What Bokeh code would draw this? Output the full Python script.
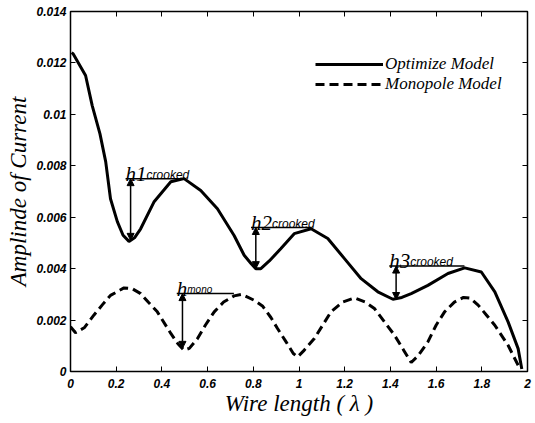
from bokeh.plotting import figure
from bokeh.models import (Range1d, FixedTicker, LinearAxis, Legend, LegendItem,
                          Arrow, NormalHead, Label, ColumnDataSource)
from bokeh.embed import file_html
from bokeh.resources import INLINE

# ---- data ----
opt_x = [0.005, 0.012, 0.066, 0.095, 0.129, 0.154, 0.175, 0.205, 0.23, 0.256, 0.28, 0.307,
         0.365, 0.439, 0.497, 0.570, 0.643, 0.716, 0.760, 0.79, 0.811, 0.833, 0.87, 0.921,
         0.979, 1.053, 1.126, 1.199, 1.272, 1.345, 1.411, 1.45, 1.491, 1.564, 1.652, 1.725,
         1.798, 1.857, 1.915, 1.959, 1.975]
opt_y = [0.0124, 0.01235, 0.01151, 0.01034, 0.00924, 0.00816, 0.00672, 0.00583, 0.0053,
         0.00506, 0.0052, 0.00555, 0.00659, 0.00738, 0.0075, 0.00704, 0.00633, 0.00529,
         0.00452, 0.0042, 0.0040, 0.0040, 0.0043, 0.00478, 0.00536, 0.00555, 0.00517,
         0.00439, 0.00361, 0.0031, 0.00281, 0.00288, 0.00303, 0.00335, 0.00381, 0.00403,
         0.00387, 0.0031, 0.00193, 0.00089, 0.0001]

mono_x = [0.0, 0.022, 0.06, 0.102, 0.14, 0.175, 0.234, 0.27, 0.307, 0.34, 0.38, 0.439,
          0.47, 0.497, 0.52, 0.556, 0.59, 0.629, 0.67, 0.716, 0.75, 0.804, 0.84, 0.877,
          0.906, 0.94, 0.975, 0.994, 1.02, 1.067, 1.14, 1.19, 1.243, 1.29, 1.33, 1.37,
          1.418, 1.46, 1.491, 1.52, 1.564, 1.60, 1.637, 1.68, 1.72, 1.75, 1.784, 1.82,
          1.857, 1.915, 1.966]
mono_y = [0.00174, 0.00151, 0.0017, 0.00219, 0.0026, 0.00296, 0.00325, 0.00322, 0.00303,
          0.0027, 0.00232, 0.00148, 0.00108, 0.00083, 0.0009, 0.00128, 0.0018, 0.00232,
          0.0027, 0.00294, 0.0030, 0.00277, 0.00255, 0.0021, 0.00167, 0.0012, 0.0007,
          0.00057, 0.0008, 0.00128, 0.00232, 0.0027, 0.00286, 0.0027, 0.00245, 0.00198,
          0.00141, 0.0008, 0.00035, 0.0006, 0.00115, 0.0018, 0.00232, 0.0027, 0.00288,
          0.00285, 0.00258, 0.0022, 0.0018, 0.00102, 0.00012]

series_names = ["Optimize Model", "Monopole Model"]

# annotation arrows (h1, h2, h3, h_mono)
ann_x = [0.263, 0.811, 1.425, 0.49]
ann_top = [0.0075, 0.0056, 0.0041, 0.00303]
ann_bottom = [0.0051, 0.0040, 0.0028, 0.0009]
ann_x0 = [0.241, 0.79, 1.395, 0.465]
ann_x1 = [0.504, 1.053, 1.724, 0.715]
ann_main = ["h1", "h2", "h3", "h"]
ann_sub = ["crooked", "crooked", "crooked", "mono"]

x_ticks = [0, 0.2, 0.4, 0.6, 0.8, 1.0, 1.2, 1.4, 1.6, 1.8, 2.0]
x_tick_labels = ["0", "0.2", "0.4", "0.6", "0.8", "1", "1.2", "1.4", "1.6", "1.8", "2"]
y_ticks = [0, 0.002, 0.004, 0.006, 0.008, 0.01, 0.012, 0.014]
y_tick_labels = ["0", "0.002", "0.004", "0.006", "0.008", "0.01", "0.012", "0.014"]

x_label = "Wire length ( \u03bb )"
y_label = "Amplinde of Current"

# ---- figure ----
p = figure(width=532, height=418, x_range=Range1d(0, 2), y_range=Range1d(0, 0.014),
           output_backend="svg", toolbar_location=None,
           min_border_left=70, min_border_right=5, min_border_top=11, min_border_bottom=45)
p.xgrid.visible = False
p.ygrid.visible = False
p.outline_line_color = "black"
p.outline_line_width = 1.5
p.background_fill_color = "white"
p.border_fill_color = "white"

tick_font = "Liberation Sans"
for ax, ticks, labels in [(p.xaxis[0], x_ticks, x_tick_labels), (p.yaxis[0], y_ticks, y_tick_labels)]:
    ax.ticker = FixedTicker(ticks=ticks)
    ax.major_label_overrides = {t: l for t, l in zip(ticks, labels)}
    ax.major_label_text_font = tick_font
    ax.major_label_text_font_style = "bold italic"
    ax.major_label_text_font_size = "12px"
    ax.major_label_text_color = "black"
    ax.major_tick_in = 5
    ax.major_tick_out = 0
    ax.minor_tick_line_color = None
    ax.axis_line_color = "black"
    ax.major_tick_line_color = "black"
    ax.axis_label_text_font = "Liberation Serif"
    ax.axis_label_text_font_style = "italic"
    ax.axis_label_text_font_size = "23px"
    ax.axis_label_text_color = "black"
    ax.axis_label_standoff = 2
    ax.major_label_standoff = 4

p.xaxis[0].major_label_standoff = 7
p.xaxis[0].axis_label_standoff = 0
p.xaxis[0].axis_label = x_label
p.yaxis[0].axis_label = y_label

top_ax = LinearAxis(ticker=FixedTicker(ticks=x_ticks), major_label_text_font_size="1px",
                    major_label_text_color=None,
                    major_tick_in=5, major_tick_out=0, minor_tick_line_color=None,
                    major_label_standoff=0, axis_line_color="black")
right_ax = LinearAxis(ticker=FixedTicker(ticks=y_ticks), major_label_text_font_size="1px",
                      major_label_text_color=None,
                      major_tick_in=5, major_tick_out=0, minor_tick_line_color=None,
                      major_label_standoff=0, axis_line_color="black")
p.add_layout(top_ax, "above")
p.add_layout(right_ax, "right")

r_opt = p.line(opt_x, opt_y, line_color="black", line_width=3)
r_mono = p.line(mono_x, mono_y, line_color="black", line_width=3, line_dash="9 5")

# annotations
src = ColumnDataSource(dict(x=ann_x, top=ann_top, bottom=ann_bottom, x0=ann_x0, x1=ann_x1))
p.segment(x0="x0", y0="top", x1="x1", y1="top", source=src, line_color="black", line_width=1.5)
p.add_layout(Arrow(start=NormalHead(size=7, fill_color="black", line_color="black"),
                   end=NormalHead(size=7, fill_color="black", line_color="black"),
                   x_start="x", y_start="top", x_end="x", y_end="bottom",
                   source=src, line_color="black", line_width=1.5))

for x0, top, main, sub in zip(ann_x0, ann_top, ann_main, ann_sub):
    p.add_layout(Label(x=x0, y=top, x_offset=0, y_offset=5, text=main,
                       text_font="Liberation Serif", text_font_style="italic",
                       text_font_size="21px", text_color="black", text_baseline="alphabetic"))
    p.add_layout(Label(x=x0, y=top, x_offset=10.5 * len(main), y_offset=4, text=sub,
                       text_font="Liberation Sans", text_font_style="italic",
                       text_font_size="12px" if sub == "crooked" else "10px",
                       text_color="black", text_baseline="alphabetic"))

legend = Legend(items=[LegendItem(label=series_names[0], renderers=[r_opt]),
                       LegendItem(label=series_names[1], renderers=[r_mono])],
                location=(245, 277), glyph_width=68, glyph_height=20, label_height=20,
                spacing=0, padding=0, margin=0, label_standoff=2,
                border_line_color=None, background_fill_alpha=0,
                label_text_font="Liberation Serif", label_text_font_style="italic",
                label_text_font_size="17px", label_text_color="black")
p.add_layout(legend)

open("out.html", "w").write(file_html(p, INLINE))
